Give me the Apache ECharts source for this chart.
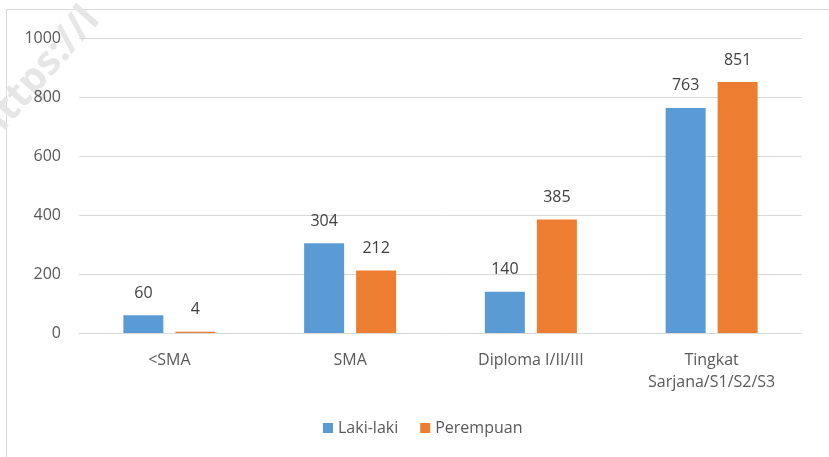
<!DOCTYPE html>
<html>
<head>
<meta charset="utf-8">
<script src="https://cdn.jsdelivr.net/npm/echarts@6/dist/echarts.min.js"></script>
<style>html,body{margin:0;padding:0;background:#fff;}#c{width:829px;height:457px;}</style>
</head>
<body>
<div id="c"></div>
<script>
var categories = ['<SMA', 'SMA', 'Diploma I/II/III', 'Tingkat\nSarjana/S1/S2/S3'];
var lakiLaki = [60, 304, 140, 763];
var perempuan = [4, 212, 385, 851];
var seriesNames = ['Laki-laki', 'Perempuan'];
var yTicks = [0, 200, 400, 600, 800, 1000];

var FONT = 'Open Sans';
var chart = echarts.init(document.getElementById('c'), null, {renderer: 'canvas'});
var labelStyle = {show: true, position: 'top', distance: 14, color: '#404040', fontFamily: FONT, fontSize: 16};
chart.setOption({
  animation: false,
  backgroundColor: '#fff',
  graphic: [
    {type: 'rect', shape: {x: 6.5, y: 9.5, width: 1000, height: 1000}, style: {fill: 'none', stroke: '#d9d9d9', lineWidth: 1}, z: -10},
    {type: 'text', x: -30, y: 122, rotation: 0.85, style: {text: 'https://l', fill: '#e6e6e6', font: 'bold 40px "Open Sans"'}, z: -5}
  ],
  legend: {
    bottom: 16, left: 318,
    itemWidth: 10, itemHeight: 10, itemGap: 22,
    icon: 'rect',
    textStyle: {color: '#595959', fontFamily: FONT, fontSize: 16},
    data: seriesNames
  },
  grid: {left: 79, right: 27, top: 38, bottom: 124, containLabel: false},
  xAxis: {
    type: 'category', data: categories,
    axisLine: {lineStyle: {color: '#d9d9d9', width: 1}},
    axisTick: {show: false},
    axisLabel: {color: '#595959', fontFamily: FONT, fontSize: 16, margin: 16, lineHeight: 22, interval: 0}
  },
  yAxis: {
    type: 'value', min: yTicks[0], max: yTicks[yTicks.length - 1], interval: 200,
    axisLine: {show: false}, axisTick: {show: false},
    splitLine: {lineStyle: {color: '#d9d9d9', width: 1}},
    axisLabel: {color: '#595959', fontFamily: FONT, fontSize: 16, margin: 18, formatter: function (v) { return String(v); }}
  },
  series: [
    {name: seriesNames[0], type: 'bar', data: lakiLaki, barWidth: 40, barGap: '30%',
     itemStyle: {color: '#5b9bd5'}, label: labelStyle},
    {name: seriesNames[1], type: 'bar', data: perempuan, barWidth: 40, barGap: '30%',
     itemStyle: {color: '#ed7d31'}, label: labelStyle}
  ]
});
</script>
</body>
</html>
